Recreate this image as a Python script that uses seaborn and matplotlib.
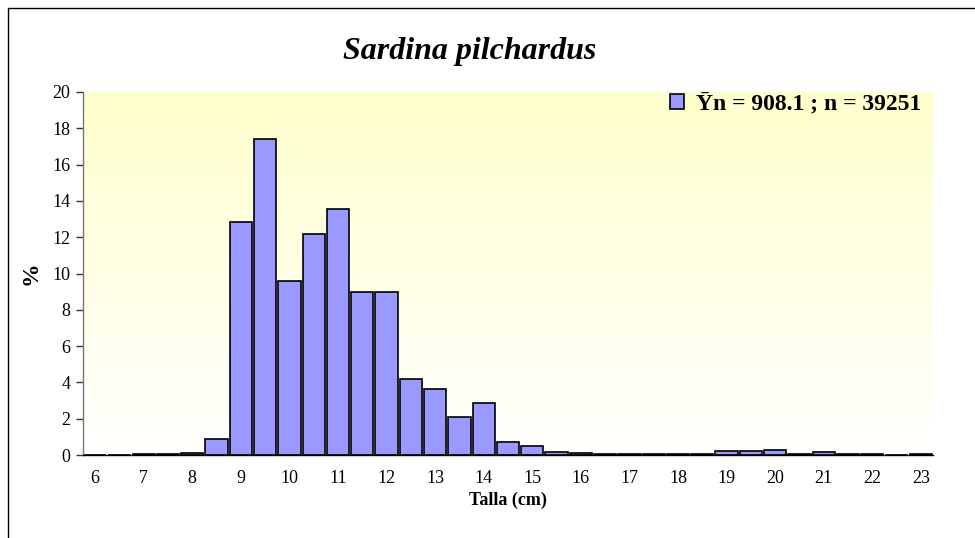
import numpy as np
import pandas as pd
import matplotlib
matplotlib.use("Agg")
import matplotlib.pyplot as plt
import seaborn as sns

# Data
tallas = [6, 6.5, 7, 7.5, 8, 8.5, 9, 9.5, 10, 10.5, 11, 11.5, 12, 12.5, 13, 13.5, 14, 14.5,
          15, 15.5, 16, 16.5, 17, 17.5, 18, 18.5, 19, 19.5, 20, 20.5, 21, 21.5, 22, 22.5, 23]
porcentaje = [0, 0, 0.03, 0.05, 0.1, 0.9, 12.86, 17.4, 9.56, 12.18, 13.55, 8.96, 8.99, 4.16, 3.65,
              2.11, 2.88, 0.71, 0.49, 0.16, 0.1, 0.03, 0.07, 0.03, 0.08, 0.03, 0.2, 0.2, 0.26,
              0.07, 0.15, 0.04, 0.03, 0, 0.04]
y_ticks = list(range(0, 21, 2))
title = "Sardina pilchardus"
legend_label = "\u0232n = 908.1 ; n = 39251"
xlabel = "Talla (cm)"
ylabel = "%"

sns.set_style("white")
plt.rcParams['font.family'] = ['Liberation Serif', 'DejaVu Serif']
plt.rcParams.update({'text.color': 'black', 'axes.labelcolor': 'black',
                     'xtick.color': 'black', 'ytick.color': 'black'})

df = pd.DataFrame({"talla": [f"{t:g}" for t in tallas], "pct": porcentaje})

fig = plt.figure(figsize=(9.75, 5.38), dpi=100)
ax = fig.add_axes([83/975, 1-455/538, (933-83)/975, (455-92)/538])

# gradient background
grad = np.linspace(0, 1, 256).reshape(-1, 1)
top = np.array([255, 255, 204]) / 255
bot = np.array([255, 255, 255]) / 255
img = top[None, None, :] * (1 - grad[:, :, None]) + bot[None, None, :] * grad[:, :, None]
ax.imshow(img, extent=[-0.5, len(tallas) - 0.5, 0, 20], aspect='auto', zorder=0,
          origin='upper')

sns.barplot(data=df, x="talla", y="pct", order=df["talla"], color="#9999FF",
            edgecolor="black", linewidth=1.2, width=0.92, saturation=1, ax=ax,
            label=legend_label, zorder=2)

ax.set_xlim(-0.5, len(tallas) - 0.5)
ax.set_ylim(0, 20)
ax.set_yticks(y_ticks)
ax.set_yticklabels([str(v) for v in y_ticks], fontsize=13)

# x ticks: labels on integer categories, marks at boundaries
idx = [i for i, t in enumerate(tallas) if float(t).is_integer()]
ax.set_xticks(idx)
ax.set_xticklabels([f"{tallas[i]:g}" for i in idx], fontsize=13)
ax.tick_params(axis='x', which='major', length=0, pad=11)
ax.set_xticks(np.arange(-0.5, len(tallas), 1.0), minor=True)
ax.tick_params(axis='x', which='minor', length=5, width=1, color='#333333', direction='out')
ax.tick_params(axis='y', which='major', length=5, width=1, color='#333333', direction='out', pad=4, left=True)

for s in ['top', 'right']:
    ax.spines[s].set_visible(False)
ax.spines['left'].set_color('#777777')
ax.spines['bottom'].set_color('black')
ax.spines['left'].set_linewidth(1)
ax.spines['bottom'].set_linewidth(1)

ax.set_xlabel(xlabel, fontsize=13, fontweight='bold', labelpad=3)
ax.set_ylabel(ylabel, fontsize=17, fontweight='bold', labelpad=8)

fig.text(470/975, 1-52/538, title, ha='center', va='center', fontsize=23,
         fontweight='bold', fontstyle='italic')

leg = ax.legend(loc='upper right', frameon=False,
                prop={'weight': 'bold', 'size': 17}, handlelength=0.6, handleheight=0.6,
                handletextpad=0.5, borderaxespad=0.0, bbox_to_anchor=(0.997, 1.022))

# outer frame lines (top and left)
fig.add_artist(plt.Line2D([8/975, 1], [1-8/538, 1-8/538], color='black', lw=1))
fig.add_artist(plt.Line2D([8/975, 8/975], [0, 1-8/538], color='black', lw=1))

fig.savefig("out.png", dpi=100)
